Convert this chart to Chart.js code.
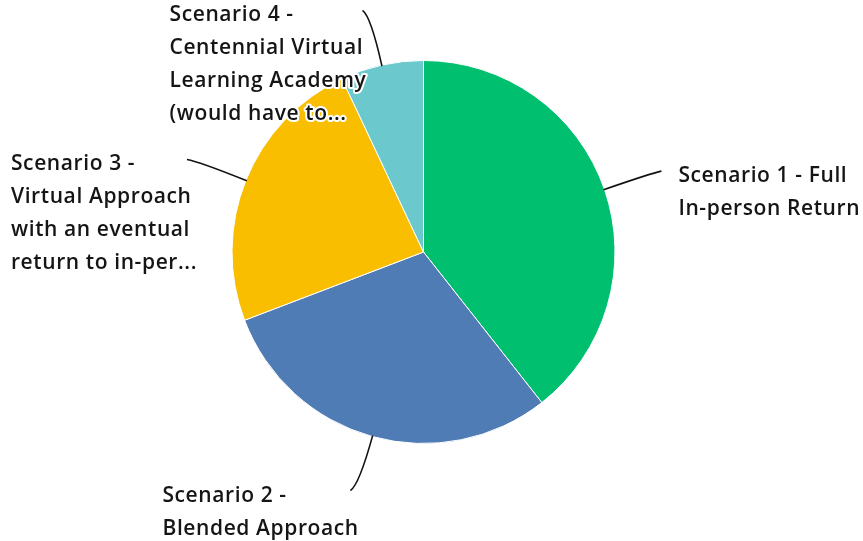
<!DOCTYPE html>
<html>
<head>
<meta charset="utf-8">
<script src="https://cdn.jsdelivr.net/npm/chart.js@4/dist/chart.umd.min.js"></script>
<style>
  html, body { margin: 0; padding: 0; background: #fff; }
  #wrap { width: 863px; height: 541px; }
</style>
</head>
<body>
<div id="wrap"><canvas id="pieChart"></canvas></div>
<script>
// Survey answers, share of responses (%)
const categories = [
  'Scenario 1 - Full In-person Return',
  'Scenario 2 - Blended Approach',
  'Scenario 3 - Virtual Approach with an eventual return to in-person',
  'Scenario 4 - Centennial Virtual Learning Academy (would have to...)'
];
const labelLines = [
  ['Scenario 1 - Full', 'In-person Return'],
  ['Scenario 2 -', 'Blended Approach'],
  ['Scenario 3 -', 'Virtual Approach', 'with an eventual', 'return to in-per...'],
  ['Scenario 4 -', 'Centennial Virtual', 'Learning Academy', '(would have to...']
];
const values = [39.4, 29.8, 23.8, 7.0];
const colors = ['#00BF6F', '#507CB6', '#F9BE00', '#6BC8CD'];

// leader lines + wrapped outside labels
const textShift = [17, -188, -176, -193];
const outsideLabels = {
  id: 'outsideLabels',
  afterDatasetsDraw(chart) {
    const ctx = chart.ctx;
    const meta = chart.getDatasetMeta(0);
    ctx.save();
    ctx.font = '600 21px "Open Sans"';
    ctx.letterSpacing = '0.6px';
    ctx.textBaseline = 'middle';
    meta.data.forEach((arc, i) => {
      const mid = (arc.startAngle + arc.endAngle) / 2;
      const r = arc.outerRadius;
      const cx = arc.x, cy = arc.y;
      const cos = Math.cos(mid), sin = Math.sin(mid);
      const right = cos >= 0;
      const sx = cx + cos * (r - 1), sy = cy + sin * (r - 1);
      const kx = cx + cos * (r + 50), ky = cy + sin * (r + 50);
      const ex = cx + cos * (r + 56) + (right ? 4 : -7);
      const ey = cy + sin * (r + 56);
      ctx.beginPath();
      ctx.moveTo(sx, sy);
      ctx.quadraticCurveTo(kx, ky, ex, ey);
      ctx.strokeStyle = '#111';
      ctx.lineWidth = 1.6;
      ctx.stroke();

      const lines = labelLines[i];
      const tx = ex + textShift[i];
      let ty = ey + 5;
      lines.forEach(line => {
        ctx.lineWidth = 4;
        ctx.strokeStyle = '#fff';
        ctx.lineJoin = 'round';
        ctx.strokeText(line, tx, ty);
        ctx.fillStyle = '#151515';
        ctx.fillText(line, tx, ty);
        ty += 33;
      });
    });
    ctx.restore();
  }
};

const chart = new Chart(document.getElementById('pieChart'), {
  type: 'pie',
  data: {
    labels: categories,
    datasets: [{
      data: values,
      backgroundColor: colors,
      borderColor: '#ffffff',
      borderWidth: 1
    }]
  },
  options: {
    responsive: true,
    maintainAspectRatio: false,
    animation: false,
    layout: { padding: { top: 60, bottom: 97, left: 231, right: 247 } },
    plugins: {
      legend: { display: false },
      tooltip: { enabled: false }
    }
  },
  plugins: [outsideLabels]
});
</script>
</body>
</html>
